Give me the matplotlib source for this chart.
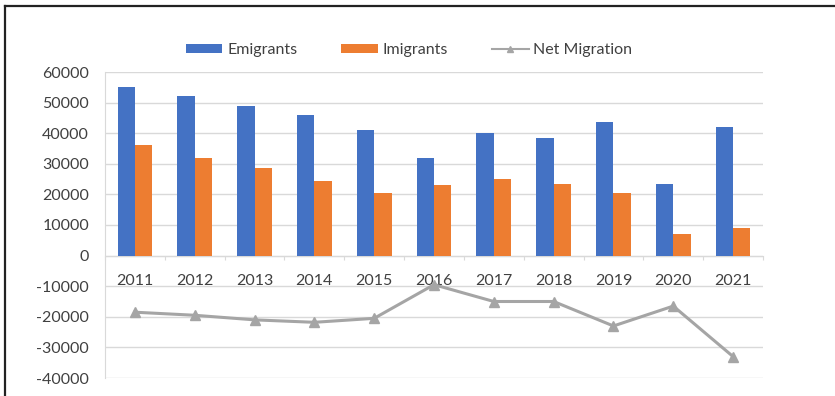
import matplotlib
matplotlib.use("Agg")
import matplotlib.pyplot as plt
import numpy as np
from matplotlib.lines import Line2D
from matplotlib.patches import Patch

years = ["2011", "2012", "2013", "2014", "2015", "2016",
         "2017", "2018", "2019", "2020", "2021"]
emigrants = [55000, 52000, 49000, 46000, 41000, 32000,
             40000, 38500, 43500, 23500, 42000]
immigrants = [36000, 32000, 28500, 24500, 20500, 23000,
              25000, 23500, 20500, 7000, 9000]
net_migration = [-18500, -19500, -21000, -21800, -20500, -9500,
                 -15000, -15000, -23000, -16500, -33000]
y_ticks = [60000, 50000, 40000, 30000, 20000, 10000, 0,
           -10000, -20000, -30000, -40000]

BLUE = "#4472C4"
ORANGE = "#ED7D31"
GRAY = "#A5A5A5"
TEXT = "#404040"
GRID = "#D9D9D9"

plt.rcParams["font.family"] = ["Lato", "DejaVu Sans"]
plt.rcParams["font.size"] = 11.5

W, H = 835, 396
fig = plt.figure(figsize=(W / 100, H / 100), dpi=100)
ax = fig.add_axes([105 / W, (H - 378) / H, (763 - 105) / W, (378 - 72) / H])

x = np.arange(len(years))
bw = 0.29
ax.bar(x - bw / 2, emigrants, bw, color=BLUE, zorder=3)
ax.bar(x + bw / 2, immigrants, bw, color=ORANGE, zorder=3)
ax.plot(x, net_migration, color=GRAY, lw=2.2, marker="^", ms=7,
        mfc=GRAY, mec=GRAY, zorder=4)

ax.set_xlim(-0.5, len(years) - 0.5)
ax.set_ylim(-40000, 60000)
ax.set_yticks(y_ticks)
ax.set_yticklabels([str(v) for v in y_ticks], color=TEXT)
ax.tick_params(axis="y", length=0, pad=11.5)
ax.grid(axis="y", color=GRID, lw=1, zorder=0)

# category axis sits on the zero line, labels just below it
ax.spines["bottom"].set_position(("data", 0))
ax.spines["bottom"].set_color(GRID)
ax.spines["bottom"].set_zorder(2)
ax.spines["top"].set_visible(False)
ax.spines["right"].set_visible(False)
ax.spines["left"].set_color(GRID)
ax.set_xticks(np.arange(-0.5, len(years), 1.0))
ax.set_xticklabels([])
ax.tick_params(axis="x", which="major", length=3, color=GRID)
ax.set_xticks(x, minor=True)
ax.set_xticklabels(years, minor=True, color=TEXT)
ax.tick_params(axis="x", which="minor", length=0, pad=13)

handles = [
    Patch(facecolor=BLUE, edgecolor="none", label="Emigrants"),
    Patch(facecolor=ORANGE, edgecolor="none", label="Imigrants"),
    Line2D([], [], color=GRAY, lw=1.5, marker="^", ms=5, label="Net Migration"),
]
leg = fig.legend(handles=handles, loc="center", ncol=3,
                 bbox_to_anchor=(409 / W, 1 - 50 / H), frameon=False,
                 handlelength=2.3, handleheight=0.45, handletextpad=0.3,
                 columnspacing=2.75, labelcolor=TEXT)

# outer frame (top and left edges)
fig.add_artist(Line2D([4.5 / W, 4.5 / W], [0, 1 - 5.5 / H],
                      transform=fig.transFigure, color="#222222", lw=1.6))
fig.add_artist(Line2D([4.5 / W, 1], [1 - 5.5 / H, 1 - 5.5 / H],
                      transform=fig.transFigure, color="#222222", lw=1.6))

fig.savefig("out.png", dpi=100, facecolor="white")
